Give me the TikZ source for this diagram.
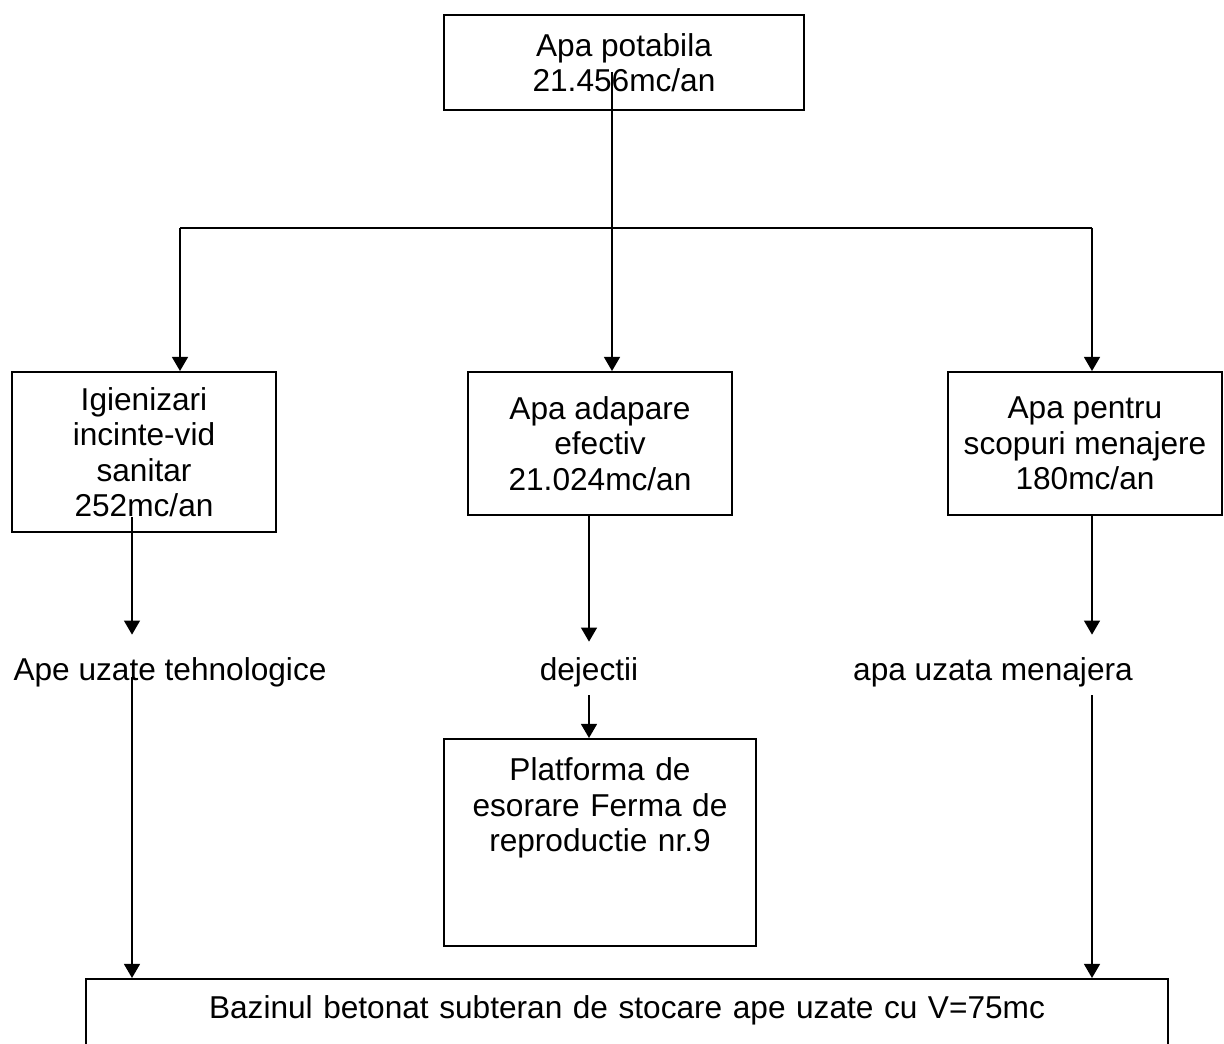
\documentclass[tikz,border=0pt]{standalone}
\usepackage{fontspec}
\setmainfont{Liberation Sans}
\usetikzlibrary{arrows.meta}
\usetikzlibrary{calc}

\tikzset{
  diagfont/.style={font=\fontsize{18pt}{20.2pt}\selectfont},
  box/.style={diagfont, draw, line width=1.1pt, align=center},
  plain/.style={diagfont, inner sep=0pt, text height=0.46cm, text depth=0.13cm},
  flow/.style={line width=1.1pt, -{Triangle[length=8pt, width=9pt]}},
}

\begin{document}
\begin{tikzpicture}[x=0.02cm, y=-0.02cm]
\useasboundingbox (0,0) rectangle (1224,1044);
\clip (0,0) rectangle (1224,1044);

% Source and the three uses
\node[box, minimum width=7.2cm, minimum height=1.9cm] (potabila) at (624,62.5) {Apa potabila\\21.456mc/an};
\node[box, minimum width=5.28cm, minimum height=3.2cm] (igien) at (144,452) {Igienizari\\incinte-vid\\sanitar\\252mc/an};
\node[box, minimum width=5.28cm, minimum height=2.86cm] (adapare) at (600,443.5) {Apa adapare\\efectiv\\21.024mc/an};
\node[box, minimum width=5.48cm, minimum height=2.86cm] (menaj) at (1085,443.5) {Apa pentru\\scopuri menajere\\180mc/an};

% Waste water kinds
\node[plain, anchor=base] (tehno) at (170,680) {Ape uzate tehnologice};
\node[plain, anchor=base] (dejectii) at (589,680) {dejectii};
\node[plain, anchor=base] (uzmen) at (993,680) {apa uzata menajera};

% Platform and storage tank
\node[box, anchor=north, text width=6.04cm, inner xsep=0.1cm, inner ysep=0.38cm, text height=0.46cm, text depth=2.92cm] (platforma) at (600,738) {Platforma de\\esorare Ferma de\\reproductie nr.9};
\node[box, anchor=north, text width=21.46cm, inner xsep=0.1cm, inner ysep=0.34cm, text height=0.46cm, text depth=2cm] (bazin) at (627,978) {Bazinul betonat subteran de stocare ape uzate cu V=75mc};

% Supply branches
\coordinate (potsrc) at (612,72);
\coordinate (brL) at (180,228);
\coordinate (brR) at (1092,228);
\draw[line width=1.1pt] (brL) -- (brR);
\draw[flow] (potsrc) -- (potsrc |- adapare.north);
\draw[flow] (brL) -- (brL |- igien.north);
\draw[flow] (brR) -- (brR |- menaj.north);

% From the uses to the waste water
\coordinate (igsrc) at (132,517);
\draw[flow, shorten >=0.44cm] (igsrc) -- (igsrc |- tehno.north);
\draw[flow, shorten >=0.3cm] (dejectii |- adapare.south) -- (dejectii.north);
\draw[flow, shorten >=0.44cm] (brR |- menaj.south) -- (brR |- uzmen.north);

% Down to the platform and the tank
\coordinate (tehsrc) at (132,677);
\draw[flow] (tehsrc) -- (tehsrc |- bazin.north);
\draw[flow, shorten <=0.17cm] (dejectii.south) -- (dejectii |- platforma.north);
\draw[flow, shorten <=0.17cm] (brR |- uzmen.south) -- (brR |- bazin.north);
\end{tikzpicture}
\end{document}
